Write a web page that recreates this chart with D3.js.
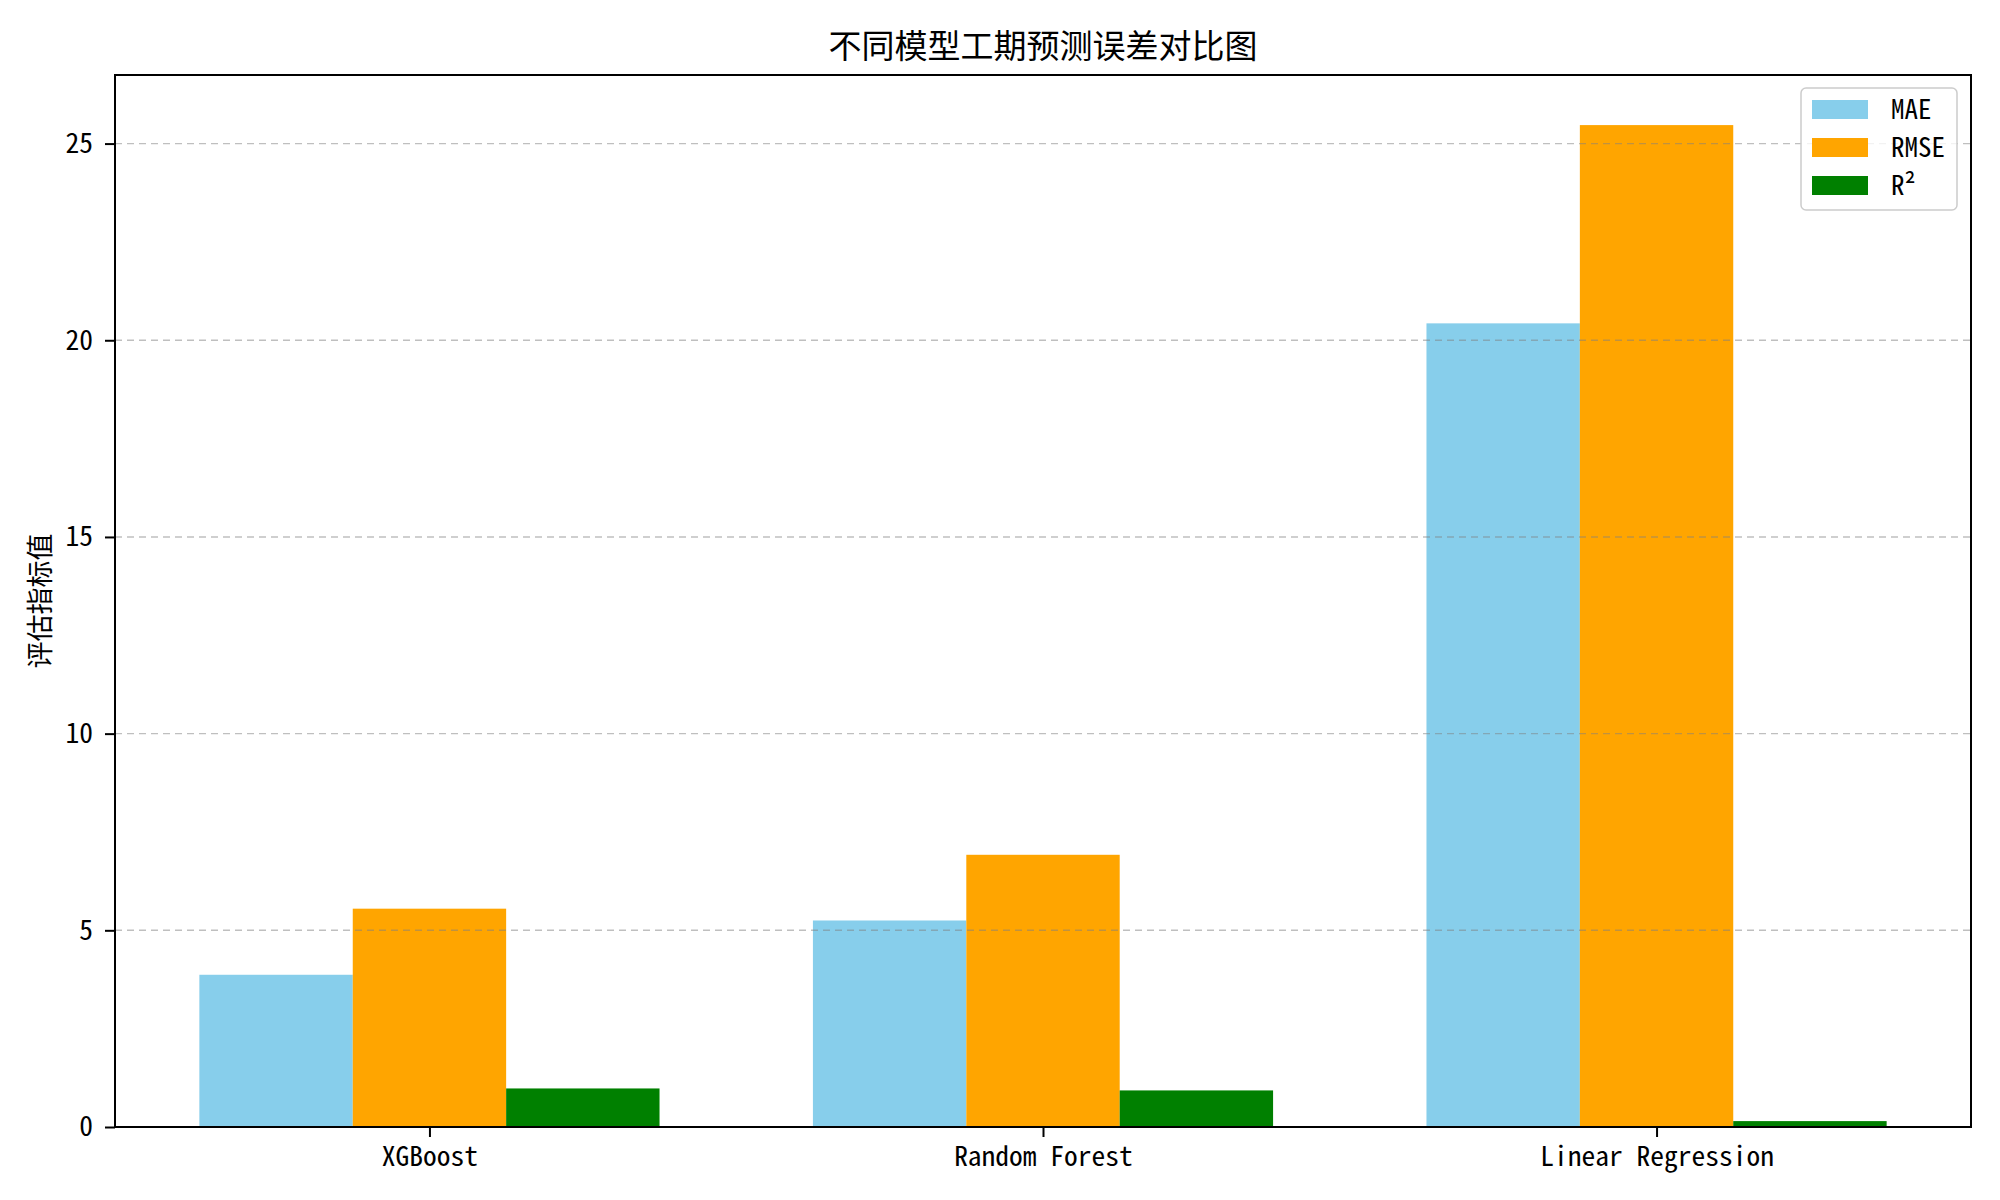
<!DOCTYPE html>
<html>
<head>
<meta charset="utf-8">
<script src="https://cdn.jsdelivr.net/npm/d3@7"></script>
<style>
  body { margin: 0; background: #fff; }
  text { font-family: "Noto Sans Mono CJK SC", "Noto Sans CJK SC", "DejaVu Sans Mono", monospace; fill: #000; }
</style>
</head>
<body>
<script>
// data
var models = ["XGBoost", "Random Forest", "Linear Regression"];
var metrics = ["MAE", "RMSE", "R²"];
var maeValues = [3.87, 5.25, 20.43];
var rmseValues = [5.55, 6.92, 25.47];
var r2Values = [0.98, 0.93, 0.15];
var yTicks = [0, 5, 10, 15, 20, 25];
var colors = ["#87CEEB", "#FFA500", "#008000"];

var series = [maeValues, rmseValues, r2Values];

var W = 2000, H = 1200;
var margin = { top: 75, right: 29, bottom: 73, left: 115 };
var width = W - margin.left - margin.right,
  height = H - margin.top - margin.bottom;
var barW = 0.25;

var svg = d3.select("body").append("svg")
  .attr("width", W)
  .attr("height", H);

var chart = svg.append("g")
  .attr("transform", "translate(" + margin.left + "," + margin.top + ")");

// matplotlib style margins: 5% padding on x, top 5% on y
var xMin = -1.5 * barW, xMax = models.length - 1 + 1.5 * barW;
var xPad = (xMax - xMin) * 0.05;
var x = d3.scaleLinear().domain([xMin - xPad, xMax + xPad]).range([0, width]);
var y = d3.scaleLinear().domain([0, d3.max(rmseValues) * 1.05]).range([height, 0]);

// bars
series.forEach(function (vals, s) {
  chart.append("g").selectAll("rect")
    .data(vals)
    .enter().append("rect")
    .attr("x", function (d, i) { return x(i + (s - 1) * barW - barW / 2); })
    .attr("width", function () { return x(barW) - x(0); })
    .attr("y", function (d) { return y(d); })
    .attr("height", function (d) { return height - y(d); })
    .attr("fill", colors[s]);
});

// dashed grid on top of bars
chart.append("g").selectAll("line")
  .data(yTicks.slice(1))
  .enter().append("line")
  .attr("x1", 0)
  .attr("x2", width)
  .attr("y1", function (d) { return y(d); })
  .attr("y2", function (d) { return y(d); })
  .attr("stroke", "#808080")
  .attr("stroke-opacity", 0.5)
  .attr("stroke-width", 1.4)
  .attr("stroke-dasharray", "7,5");

// axes
var yAxis = chart.append("g")
  .call(d3.axisLeft(y).tickValues(yTicks).tickSize(10).tickPadding(12));
var xAxis = chart.append("g")
  .attr("transform", "translate(0," + height + ")")
  .call(d3.axisBottom(x).tickValues([0, 1, 2])
    .tickFormat(function (d) { return models[d]; })
    .tickSize(10).tickPadding(9));

[yAxis, xAxis].forEach(function (a) {
  a.select(".domain").remove();
  a.selectAll(".tick line").attr("stroke", "#000").attr("stroke-width", 2);
  a.selectAll(".tick text").style("font-size", "27.5px").style("font-weight", 500);
});

// frame
chart.append("rect")
  .attr("width", width)
  .attr("height", height)
  .attr("fill", "none")
  .attr("stroke", "#000")
  .attr("stroke-width", 2);

// title
svg.append("text")
  .attr("x", margin.left + width / 2)
  .attr("y", 58)
  .attr("text-anchor", "middle")
  .style("font-size", "33px")
  .style("font-weight", 500)
  .text("不同模型工期预测误差对比图");

// y label
svg.append("text")
  .attr("transform", "translate(50," + (margin.top + height / 2) + ") rotate(-90)")
  .attr("text-anchor", "middle")
  .style("font-size", "27px")
  .style("font-weight", 500)
  .text("评估指标值");

// legend
var legend = svg.append("g")
  .attr("transform", "translate(1801,88)");

legend.append("rect")
  .attr("width", 156)
  .attr("height", 122)
  .attr("rx", 5)
  .attr("fill", "#fff")
  .attr("fill-opacity", 0.8)
  .attr("stroke", "#cccccc")
  .attr("stroke-width", 1.5);

var item = legend.selectAll(".legend-item")
  .data(metrics)
  .enter().append("g")
  .attr("class", "legend-item")
  .attr("transform", function (d, i) { return "translate(11," + (22 + i * 38) + ")"; });

item.append("rect")
  .attr("y", -10)
  .attr("width", 56)
  .attr("height", 19)
  .attr("fill", function (d, i) { return colors[i]; });

item.append("text")
  .attr("x", 79)
  .attr("dy", "0.35em")
  .style("font-size", "27px")
  .style("font-weight", 500)
  .text(function (d) { return d; });
</script>
</body>
</html>
